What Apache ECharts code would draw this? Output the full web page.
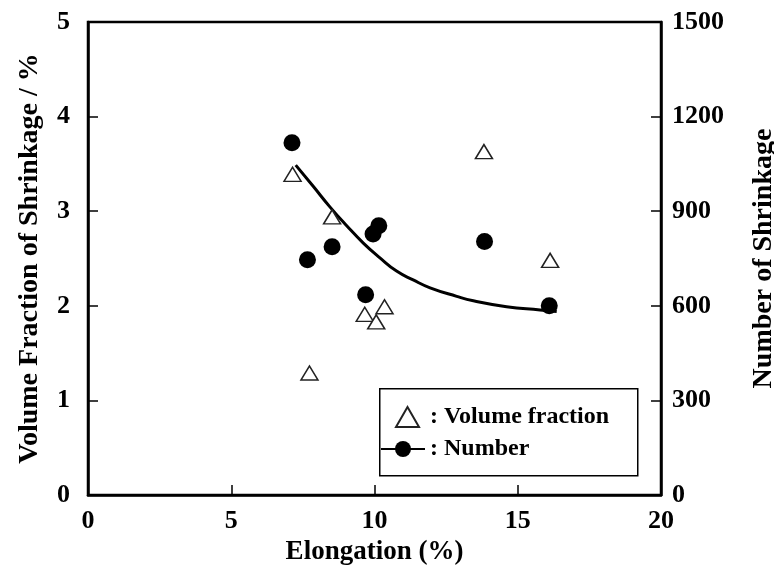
<!DOCTYPE html>
<html>
<head>
<meta charset="utf-8">
<script src="https://cdn.jsdelivr.net/npm/echarts@6/dist/echarts.min.js"></script>
<style>
  html, body { margin: 0; padding: 0; background: #fff; }
  #chart { width: 774px; height: 579px; }
</style>
</head>
<body>
<div id="chart"></div>
<script>
// Elongation (%) of each specimen
const volElongation = [7.14, 8.52, 7.73, 9.66, 10.06, 10.35, 13.82, 16.13];
// Volume fraction of shrinkage (%), left axis
const volFraction = [3.39, 2.94, 1.29, 1.91, 1.83, 1.99, 3.63, 2.48];

const numElongation = [7.12, 7.66, 8.52, 9.69, 9.95, 10.15, 13.84, 16.10];
// Number of shrinkage, right axis
const numShrinkage = [1117, 746, 787, 635, 828, 854, 804, 600];

// Trend curve through the number data
const fitElongation = [7.25, 7.86, 8.45, 9.03, 9.61, 10.19, 10.77, 11.35, 11.94, 12.87, 13.45, 14.61, 15.78, 16.36];
const fitNumber = [1046, 979, 913, 854, 799, 752, 710, 682, 657, 630, 616, 597, 587, 582];

const xTicks = [0, 5, 10, 15, 20];
const leftTicks = [0, 1, 2, 3, 4, 5];
const rightTicks = [0, 300, 600, 900, 1200, 1500];

const FONT = '"Liberation Serif", "Times New Roman", serif';
const zip = (xs, ys) => xs.map((x, i) => [x, ys[i]]);

const chart = echarts.init(document.getElementById('chart'), null, { renderer: 'canvas' });

const axisLine = { show: true, lineStyle: { color: '#000', width: 2.5 } };
const axisTick = { show: true, inside: true, length: 10, lineStyle: { color: '#000', width: 1.5 } };
const labelStyle = { color: '#000', fontFamily: FONT, fontWeight: 'bold', fontSize: 26 };
const nameStyle = { color: '#000', fontFamily: FONT, fontWeight: 'bold', fontSize: 27 };
const legendText = { color: '#000', fontFamily: FONT, fontWeight: 'bold', fontSize: 24 };

chart.setOption({
  animation: false,
  backgroundColor: '#fff',
  grid: {
    left: 88, right: 113, top: 22, bottom: 84,
    outerBoundsMode: 'none',
    containLabel: false,
    show: true, borderColor: '#000', borderWidth: 2.5, backgroundColor: 'transparent'
  },
  // frame around the two legend rows
  graphic: [{
    type: 'rect',
    left: 379, top: 388,
    shape: { width: 258, height: 87 },
    style: { fill: '#fff', stroke: '#000', lineWidth: 1.5 },
    z: 5
  }],
  legend: [
    {
      orient: 'vertical',
      left: 395, top: 405,
      padding: 0,
      itemWidth: 23, itemHeight: 20,
      data: [{ name: 'Volume fraction', icon: 'triangle' }],
      formatter: ' : {name}',
      textStyle: legendText,
      z: 10
    },
    {
      orient: 'vertical',
      left: 380, top: 437,
      padding: 0,
      itemWidth: 44, itemHeight: 20,
      data: ['Number'],
      formatter: ': {name}',
      textStyle: legendText,
      z: 10
    }
  ],
  xAxis: {
    type: 'value',
    min: xTicks[0], max: xTicks[xTicks.length - 1], interval: xTicks[1] - xTicks[0],
    axisLine, axisTick,
    axisLabel: Object.assign({ margin: 13 }, labelStyle),
    splitLine: { show: false },
    name: 'Elongation (%)', nameLocation: 'middle', nameGap: 42, nameTextStyle: nameStyle
  },
  yAxis: [
    {
      type: 'value', position: 'left',
      min: leftTicks[0], max: leftTicks[leftTicks.length - 1], interval: leftTicks[1] - leftTicks[0],
      axisLine, axisTick,
      axisLabel: Object.assign({ margin: 18 }, labelStyle),
      splitLine: { show: false },
      name: 'Volume Fraction of Shrinkage / %', nameLocation: 'middle', nameRotate: 90, nameGap: 44,
      nameTextStyle: Object.assign({}, nameStyle, { fontSize: 28 })
    },
    {
      type: 'value', position: 'right',
      min: rightTicks[0], max: rightTicks[rightTicks.length - 1], interval: rightTicks[1] - rightTicks[0],
      axisLine, axisTick,
      axisLabel: Object.assign({ margin: 11, formatter: v => String(v) }, labelStyle),
      splitLine: { show: false },
      name: 'Number of Shrinkage', nameLocation: 'middle', nameRotate: 90, nameGap: 89,
      nameTextStyle: Object.assign({}, nameStyle, { fontSize: 28 })
    }
  ],
  series: [
    {
      name: 'Number',
      type: 'line',
      yAxisIndex: 1,
      data: zip(fitElongation, fitNumber),
      smooth: 0.5,
      showSymbol: false,
      symbol: 'circle',
      symbolSize: 17,
      lineStyle: { color: '#000', width: 3 },
      itemStyle: { color: '#000' },
      z: 2
    },
    {
      name: 'Volume fraction',
      type: 'scatter',
      yAxisIndex: 0,
      data: zip(volElongation, volFraction),
      symbol: 'triangle',
      symbolSize: [17, 14],
      itemStyle: { color: '#fff', borderColor: '#222', borderWidth: 1.5, opacity: 1 },
      z: 3
    },
    {
      name: 'Number',
      type: 'scatter',
      yAxisIndex: 1,
      data: zip(numElongation, numShrinkage),
      symbol: 'circle',
      symbolSize: 17,
      itemStyle: { color: '#000', opacity: 1 },
      z: 4
    }
  ]
});
</script>
</body>
</html>
